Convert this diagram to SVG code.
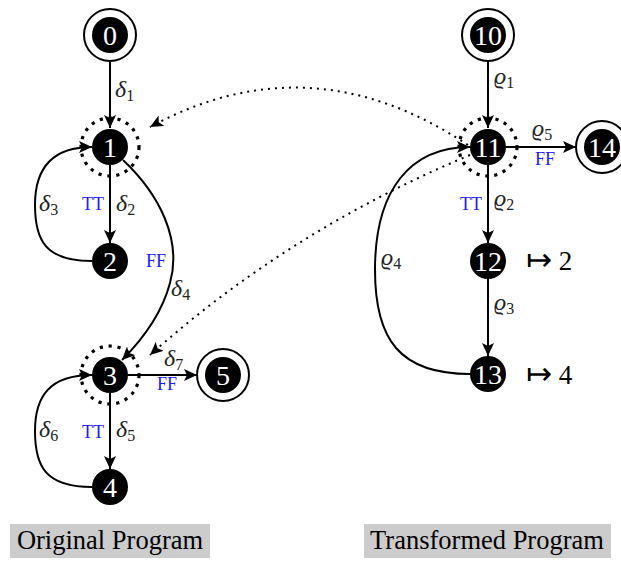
<svg xmlns="http://www.w3.org/2000/svg" width="621" height="561" viewBox="0 0 621 561">
<style>
.e{fill:none;stroke:#000;stroke-width:2}
.dot{fill:none;stroke:#000;stroke-width:2;stroke-dasharray:2 5}
.ring{fill:none;stroke:#000;stroke-width:3.2;stroke-dasharray:3.2 5.8}
.outer{fill:#fff;stroke:#000;stroke-width:2}
.blk{fill:#000}
.num{font-family:"Liberation Serif","DejaVu Serif",serif;font-size:28px;fill:#fff;text-anchor:middle}
.lab{font-family:"Liberation Serif","DejaVu Serif",serif;font-size:24px;font-style:italic;fill:#222}
.sub{font-size:16px;font-style:normal}
.tf{font-family:"Liberation Serif",serif;font-size:18px;fill:#1a1aff}
.map{font-family:"Liberation Serif","DejaVu Serif",serif;font-size:27px;fill:#000}
.arr{font-family:"DejaVu Sans",sans-serif;font-size:31px}
.cap{font-family:"Liberation Serif",serif;font-size:26.5px;fill:#000}
</style>
<defs>
<marker id="ah" markerUnits="userSpaceOnUse" markerWidth="14" markerHeight="12" viewBox="0 0 14 12" refX="13" refY="6" orient="auto">
<path d="M0,0 L13,6 L0,12 L3,6 z" fill="#000"/>
</marker>
</defs>
<g id="connectors">
<line class="e" x1="110" y1="62" x2="110" y2="128" marker-end="url(#ah)"/>
<line class="e" x1="110" y1="165" x2="110" y2="243" marker-end="url(#ah)"/>
<path class="e" d="M92,261 C45,261 35,240 35,205 C35,170 50,147 92,147" marker-end="url(#ah)"/>
<path class="e" d="M123,160 C160,195 182,240 170,283 C162,313 142,340 122,360" marker-end="url(#ah)"/>
<line class="e" x1="110" y1="393" x2="110" y2="469" marker-end="url(#ah)"/>
<path class="e" d="M92,487 C45,487 35,466 35,431 C35,396 50,375 92,375" marker-end="url(#ah)"/>
<line class="e" x1="128" y1="375" x2="197" y2="375" marker-end="url(#ah)"/>
<line class="e" x1="488" y1="62" x2="488" y2="128" marker-end="url(#ah)"/>
<line class="e" x1="488" y1="165" x2="488" y2="243" marker-end="url(#ah)"/>
<line class="e" x1="488" y1="279" x2="488" y2="356" marker-end="url(#ah)"/>
<line class="e" x1="506" y1="147" x2="576" y2="147" marker-end="url(#ah)"/>
<path class="e" d="M470,374 C400,374 375,340 375,270 C375,190 410,147 470,147" marker-end="url(#ah)"/>
<path class="dot" d="M468,145 Q310,40 150,127" marker-end="url(#ah)"/>
<path class="dot" d="M470,155 Q290,230 150,355" marker-end="url(#ah)"/>
<text class="lab" x="115" y="97">δ<tspan class="sub" dy="4">1</tspan></text>
<text class="lab" x="116" y="211">δ<tspan class="sub" dy="4">2</tspan></text>
<text class="lab" x="39" y="211">δ<tspan class="sub" dy="4">3</tspan></text>
<text class="lab" x="171" y="296">δ<tspan class="sub" dy="4">4</tspan></text>
<text class="lab" x="116" y="437">δ<tspan class="sub" dy="4">5</tspan></text>
<text class="lab" x="39" y="437">δ<tspan class="sub" dy="4">6</tspan></text>
<text class="lab" x="164" y="366">δ<tspan class="sub" dy="4">7</tspan></text>
<text class="lab" x="494" y="84">ϱ<tspan class="sub" dy="4">1</tspan></text>
<text class="lab" x="494" y="206">ϱ<tspan class="sub" dy="4">2</tspan></text>
<text class="lab" x="494" y="310">ϱ<tspan class="sub" dy="4">3</tspan></text>
<text class="lab" x="381" y="265">ϱ<tspan class="sub" dy="4">4</tspan></text>
<text class="lab" x="532" y="136">ϱ<tspan class="sub" dy="4">5</tspan></text>
<text class="tf" x="82" y="210">TT</text>
<text class="tf" x="146" y="267">FF</text>
<text class="tf" x="82" y="438">TT</text>
<text class="tf" x="157" y="390">FF</text>
<text class="tf" x="460" y="210">TT</text>
<text class="tf" x="535" y="165">FF</text>
</g>
<g id="n0"><circle class="outer" cx="110" cy="35" r="26"/><circle class="blk" cx="110" cy="35" r="18"/><text class="num" x="110" y="45">0</text></g>
<g id="n1"><circle class="blk" cx="110" cy="147" r="18"/><circle class="ring" cx="110" cy="147" r="29"/><text class="num" x="110" y="157">1</text></g>
<g id="n2"><circle class="blk" cx="110" cy="261" r="18"/><text class="num" x="110" y="271">2</text></g>
<g id="n3"><circle class="blk" cx="110" cy="375" r="18"/><circle class="ring" cx="110" cy="375" r="29"/><text class="num" x="110" y="385">3</text></g>
<g id="n4"><circle class="blk" cx="110" cy="487" r="18"/><text class="num" x="110" y="497">4</text></g>
<g id="n5"><circle class="outer" cx="223" cy="375" r="26"/><circle class="blk" cx="223" cy="375" r="18"/><text class="num" x="223" y="385">5</text></g>
<g id="n10"><circle class="outer" cx="488" cy="35" r="26"/><circle class="blk" cx="488" cy="35" r="18"/><text class="num" x="488" y="45">10</text></g>
<g id="n11"><circle class="blk" cx="488" cy="147" r="18"/><circle class="ring" cx="488" cy="147" r="29"/><text class="num" x="488" y="157">11</text></g>
<g id="n12"><circle class="blk" cx="488" cy="261" r="18"/><text class="num" x="488" y="271">12</text><text class="map" x="526" y="270"><tspan class="arr">↦</tspan> 2</text></g>
<g id="n13"><circle class="blk" cx="488" cy="374" r="18"/><text class="num" x="488" y="384">13</text><text class="map" x="526" y="384"><tspan class="arr">↦</tspan> 4</text></g>
<g id="n14"><circle class="outer" cx="602" cy="147" r="26"/><circle class="blk" cx="602" cy="147" r="18"/><text class="num" x="602" y="157">14</text></g>
<g id="captions">
<rect x="10" y="524" width="200" height="34" fill="#cccccc"/>
<text class="cap" x="110" y="549" text-anchor="middle">Original Program</text>
<rect x="364" y="524" width="247" height="34" fill="#cccccc"/>
<text class="cap" x="487" y="549" text-anchor="middle">Transformed Program</text>
</g>
</svg>
